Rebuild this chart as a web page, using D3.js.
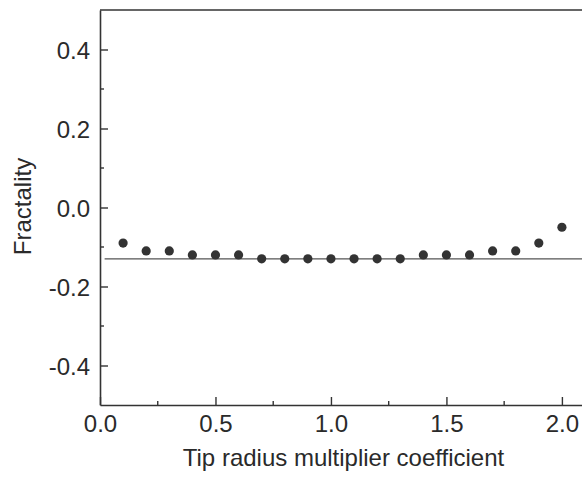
<!DOCTYPE html>
<html>
<head>
<meta charset="utf-8">
<script src="https://cdn.jsdelivr.net/npm/d3@7"></script>
<style>
  body { margin: 0; background: #fff; }
  svg text { font-family: "Liberation Sans", Arial, sans-serif; fill: #2a2a2a; }
</style>
</head>
<body>
<svg id="chart" width="582" height="477"></svg>
<script>
// data
var coef      = [0.1, 0.2, 0.3, 0.4, 0.5, 0.6, 0.7, 0.8, 0.9, 1.0, 1.1, 1.2, 1.3, 1.4, 1.5, 1.6, 1.7, 1.8, 1.9, 2.0];
var fractal   = [-0.09, -0.11, -0.11, -0.12, -0.12, -0.12, -0.13, -0.13, -0.13, -0.13, -0.13, -0.13, -0.13, -0.12, -0.12, -0.12, -0.11, -0.11, -0.09, -0.05];
var refLevel  = -0.13;
var xTicks    = [0.0, 0.5, 1.0, 1.5, 2.0];
var xMinor    = [0.25, 0.75, 1.25, 1.75];
var yTicks    = [-0.4, -0.2, 0.0, 0.2, 0.4];
var yMinor    = [-0.3, -0.1, 0.1, 0.3];

var margin = {top: 10, left: 100, bottom: 72};
var svg = d3.select("#chart");
var H = 477;

var x = d3.scaleLinear().domain([0, 2.1]).range([margin.left, margin.left + 485]);
var y = d3.scaleLinear().domain([-0.5, 0.5]).range([H - margin.bottom, margin.top]);

var ink = "#333";
var fmt = function(d) { return d3.format(".1f")(d).replace("\u2212", "-"); };

// frame
svg.append("line").attr("x1", x(0)).attr("x2", 600).attr("y1", y(0.5)).attr("y2", y(0.5))
  .attr("stroke", ink).attr("stroke-width", 1.6);

var axisX = d3.axisBottom(x).tickValues(xTicks).tickFormat(fmt)
  .tickSizeInner(-8).tickSizeOuter(0).tickPadding(10);
var gx = svg.append("g").attr("transform", "translate(0," + y(-0.5) + ")").call(axisX);
gx.append("g").selectAll("line").data(xMinor).join("line")
  .attr("x1", d => x(d)).attr("x2", d => x(d)).attr("y1", 0).attr("y2", -4);

var axisY = d3.axisLeft(y).tickValues(yTicks).tickFormat(fmt)
  .tickSizeInner(-8).tickSizeOuter(0).tickPadding(10);
var gy = svg.append("g").attr("transform", "translate(" + x(0) + ",0)").call(axisY);
gy.append("g").selectAll("line").data(yMinor).join("line")
  .attr("x1", 0).attr("x2", 4).attr("y1", d => y(d)).attr("y2", d => y(d));

[gx, gy].forEach(function(g) {
  g.select(".domain").attr("stroke", ink).attr("stroke-width", 1.6);
  g.selectAll("line").attr("stroke", ink).attr("stroke-width", 1.4);
  g.selectAll(".tick text").attr("font-size", 24).attr("fill", "#2a2a2a")
    .attr("font-family", "Liberation Sans, Arial, sans-serif");
});
gx.selectAll(".tick text").attr("dy", "0.71em");
gy.selectAll(".tick text").attr("dy", "0.36em");

// reference line
svg.append("line")
  .attr("x1", x(0.02)).attr("x2", x(2.1))
  .attr("y1", y(refLevel)).attr("y2", y(refLevel))
  .attr("stroke", "#555").attr("stroke-width", 1.4);

// points
svg.append("g").selectAll("circle").data(coef).join("circle")
  .attr("cx", d => x(d))
  .attr("cy", (d, i) => y(fractal[i]))
  .attr("r", 4.6)
  .attr("fill", ink);

// axis titles
svg.append("text").attr("x", 343.5).attr("y", 466).attr("text-anchor", "middle")
  .attr("font-size", 24).text("Tip radius multiplier coefficient");
svg.append("text").attr("transform", "translate(31,206.5) rotate(-90)")
  .attr("text-anchor", "middle").attr("font-size", 24).text("Fractality");
</script>
</body>
</html>
